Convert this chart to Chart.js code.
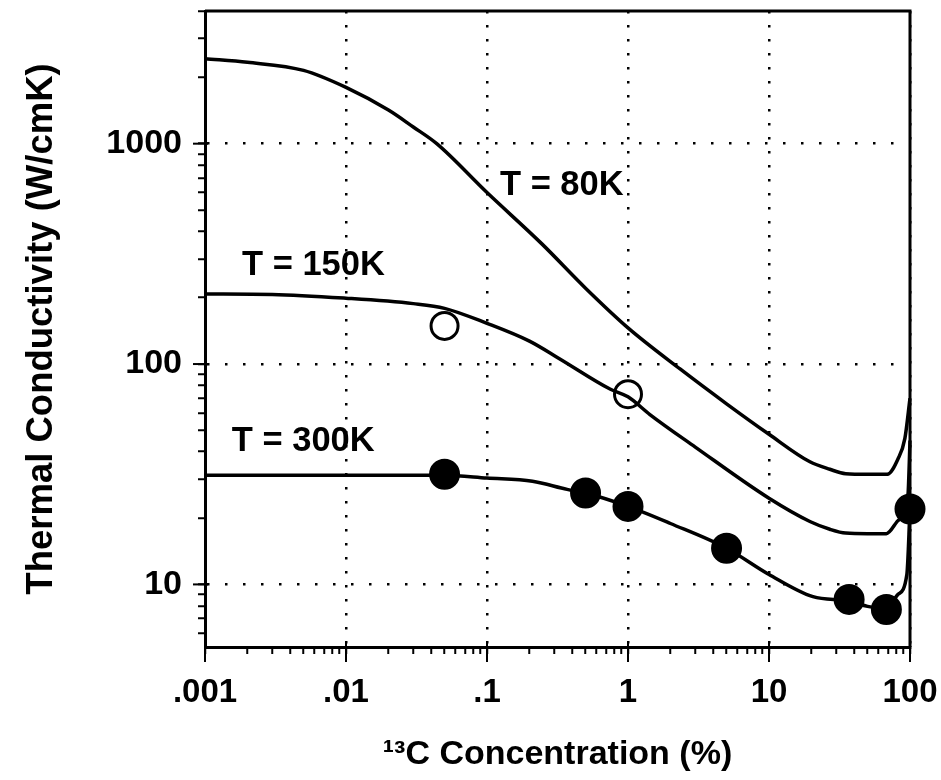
<!DOCTYPE html>
<html><head><meta charset="utf-8">
<script src="https://cdn.jsdelivr.net/npm/chart.js@4/dist/chart.umd.min.js"></script>
<style>html,body{margin:0;padding:0;background:#fff;}</style>
</head><body>
<canvas id="c" width="941" height="780" style="width:941px;height:780px;display:block"></canvas>
<script>
// ---- data ----
const conc80 = [0.001, 0.002, 0.005, 0.01, 0.02, 0.03, 0.044, 0.1, 0.245, 0.5, 1, 2.34, 5, 10, 19.5, 27, 35, 50, 69, 82, 92, 100];
const k80    = [2430, 2340, 2150, 1800, 1420, 1190, 1000, 600, 351, 221, 146, 95, 66, 48, 36, 33.3, 31.8, 31.6, 31.6, 37, 46, 70];

const conc150 = [0.001, 0.003, 0.01, 0.03, 0.05, 0.1, 0.2, 0.324, 0.745, 1, 1.43, 3, 10, 19.5, 27, 35, 50, 68, 81, 92, 97, 100];
const k150    = [208, 207, 199, 188, 179, 153, 127, 106, 77, 71, 59, 42, 24.6, 19.3, 17.8, 17.1, 17, 17, 19.3, 21.5, 26, 45];

const conc300 = [0.001, 0.01, 0.05, 0.1, 0.21, 0.37, 0.5, 1, 2, 5, 10, 20.5, 37, 50, 68, 82, 95, 100];
const k300    = [31.3, 31.3, 31.3, 30.4, 29.4, 27, 26, 22.6, 18.9, 14.6, 11.1, 8.8, 8.4, 7.95, 7.75, 9, 11.1, 22];

const concOpen150 = [0.05, 1];
const kOpen150    = [149, 73];

const concFilled300 = [0.05, 0.5, 1, 5, 37, 68, 100];
const kFilled300    = [31.6, 26, 22.6, 14.6, 8.55, 7.7, 22];

const xTickValues = [0.001, 0.01, 0.1, 1, 10, 100];
const xTickLabels = ['.001', '.01', '.1', '1', '10', '100'];
const yTickValues = [10, 100, 1000];
const yTickLabels = ['10', '100', '1000'];

const curveLabels    = ['T = 80K', 'T = 150K', 'T = 300K'];
const curveLabelConc = [0.1236, 0.00183, 0.00155];
const curveLabelK    = [644, 279, 44.7];

const xTitle = '\u00B9\u00B3C Concentration (%)';
const yTitle = 'Thermal Conductivity (W/cmK)';

// ---- helpers ----
const pts = (xs, ys) => xs.map((x, i) => ({x: x, y: ys[i]}));
const isPow10 = v => Math.abs(Math.log10(v) - Math.round(Math.log10(v))) < 1e-6;
function logTicks(scale) {
  const min = scale.min, max = scale.max, out = [];
  for (let e = Math.floor(Math.log10(min)); e <= Math.ceil(Math.log10(max)); e++) {
    for (let m = 1; m <= 9; m++) {
      const v = Number((m * Math.pow(10, e)).toPrecision(6));
      if (v >= min * (1 - 1e-9) && v <= max * (1 + 1e-9)) out.push({value: v, major: m === 1});
    }
  }
  scale.ticks = out;
}
function labelFor(values, labels) {
  return v => {
    const i = values.findIndex(t => Math.abs(Math.log10(t) - Math.log10(v)) < 1e-6);
    return i >= 0 ? labels[i] : '';
  };
}
const FONT = '"Liberation Sans", Arial, sans-serif';
const BLACK = '#000';

const framePlugin = {
  id: 'frame',
  beforeDatasetsDraw(chart) {
    const {ctx, chartArea: a, scales} = chart;
    ctx.save();
    ctx.strokeStyle = BLACK;
    ctx.lineWidth = 3;
    ctx.beginPath();
    ctx.moveTo(a.left, a.top); ctx.lineTo(a.right, a.top); ctx.lineTo(a.right, a.bottom);
    ctx.stroke();
    // longer major ticks
    ctx.lineWidth = 2;
    xTickValues.forEach(v => {
      const px = scales.x.getPixelForValue(v);
      ctx.beginPath(); ctx.moveTo(px, a.bottom - 4); ctx.lineTo(px, a.bottom + 15); ctx.stroke();
    });
    yTickValues.forEach(v => {
      const py = scales.y.getPixelForValue(v);
      ctx.beginPath(); ctx.moveTo(a.left - 12, py); ctx.lineTo(a.left + 3, py); ctx.stroke();
    });
    ctx.restore();
  },
  afterDatasetsDraw(chart) {
    const {ctx, scales} = chart;
    ctx.save();
    ctx.fillStyle = BLACK;
    ctx.font = 'bold 34.5px ' + FONT;
    ctx.textAlign = 'left';
    ctx.textBaseline = 'middle';
    curveLabels.forEach((t, i) => {
      ctx.fillText(t, scales.x.getPixelForValue(curveLabelConc[i]), scales.y.getPixelForValue(curveLabelK[i]));
    });
    ctx.restore();
  }
};

const lineDs = (xs, ys) => ({
  type: 'line', data: pts(xs, ys), borderColor: BLACK, borderWidth: 3.5,
  pointRadius: 0, fill: false, cubicInterpolationMode: 'monotone', clip: false
});

new Chart(document.getElementById('c'), {
  type: 'scatter',
  data: {
    datasets: [
      lineDs(conc80, k80),
      lineDs(conc150, k150),
      lineDs(conc300, k300),
      { data: pts(concOpen150, kOpen150), pointRadius: 13.5, pointBorderWidth: 3,
        pointBackgroundColor: '#fff', pointBorderColor: BLACK, showLine: false, clip: false },
      { data: pts(concFilled300, kFilled300), pointRadius: 14.5, pointBorderWidth: 2,
        pointBackgroundColor: BLACK, pointBorderColor: BLACK, showLine: false, clip: false }
    ]
  },
  options: {
    responsive: false, devicePixelRatio: 1, animation: false, events: [],
    layout: {autoPadding: false, padding: {left: 0, right: 31, top: 11, bottom: 0}},
    plugins: {legend: {display: false}, tooltip: {enabled: false}},
    scales: {
      x: {
        type: 'logarithmic', position: 'bottom', min: 0.001, max: 100,
        afterBuildTicks: logTicks,
        afterFit: s => { s.height = 133; s.paddingLeft = 0; s.paddingRight = 0; },
        grid: {
          color: c => (c.tick && isPow10(c.tick.value)) ? BLACK : 'rgba(0,0,0,0)',
          lineWidth: 2.5, tickColor: BLACK, tickLength: 7, tickWidth: 2
        },
        border: {display: true, color: BLACK, width: 3, dash: [2.5, 11.5]},
        ticks: {
          autoSkip: false, maxRotation: 0, minRotation: 0, padding: 19, color: BLACK,
          font: {family: FONT, weight: 'bold', size: 33},
          callback: labelFor(xTickValues, xTickLabels)
        },
        title: {display: true, text: xTitle, color: BLACK,
          font: {family: FONT, weight: 'bold', size: 34}, padding: {top: 0, bottom: 5}}
      },
      y: {
        type: 'logarithmic', position: 'left', min: 5.2, max: 4000,
        afterBuildTicks: logTicks,
        afterFit: s => { s.width = 205; s.paddingTop = 0; s.paddingBottom = 0; },
        grid: {
          color: c => (c.tick && isPow10(c.tick.value)) ? BLACK : 'rgba(0,0,0,0)',
          lineWidth: 2.5, tickColor: BLACK, tickLength: 7, tickWidth: 2
        },
        border: {display: true, color: BLACK, width: 3, dash: [2.5, 15.5]},
        ticks: {
          autoSkip: false, padding: 16, color: BLACK,
          font: {family: FONT, weight: 'bold', size: 34},
          callback: labelFor(yTickValues, yTickLabels)
        },
        title: {display: true, text: yTitle, color: BLACK,
          font: {family: FONT, weight: 'bold', size: 36.5}, padding: {top: 20, bottom: 0}}
      }
    }
  },
  plugins: [framePlugin]
});
</script>
</body></html>
